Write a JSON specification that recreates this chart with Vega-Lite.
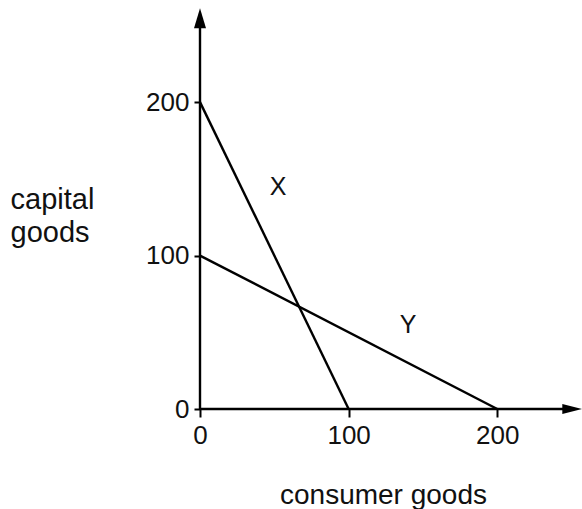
{
  "$schema": "https://vega.github.io/schema/vega-lite/v6.json",
  "width": 382,
  "height": 402,
  "autosize": {"type": "none"},
  "padding": {"left": 200, "top": 7, "right": 0, "bottom": 100},
  "background": "white",
  "config": {"view": {"stroke": null}, "font": "Liberation Sans"},
  "datasets": {
    "segments": [
      {"name": "y-axis", "x": 0, "y": 0, "x2": 0, "y2": 254},
      {"name": "x-axis", "x": 0, "y": 0, "x2": 250, "y2": 0},
      {"name": "X", "x": 0, "y": 200, "x2": 100, "y2": 0},
      {"name": "Y", "x": 0, "y": 100, "x2": 200, "y2": 0}
    ],
    "arrows": [
      {"dir": "up", "x": 0, "y": 254.7},
      {"dir": "right", "x": 250.5, "y": 0}
    ],
    "labels": [
      {"label": "X", "x": 52.5, "y": 144.6},
      {"label": "Y", "x": 140, "y": 54.7}
    ]
  },
  "layer": [
    {
      "data": {"name": "segments"},
      "mark": {"type": "rule", "color": "black", "strokeWidth": 2.4},
      "encoding": {
        "x": {
          "field": "x", "type": "quantitative",
          "scale": {"domain": [0, 257], "nice": false, "zero": false},
          "axis": {
            "values": [0, 100, 200], "domain": false, "grid": false,
            "tickSize": 8, "tickWidth": 2, "tickColor": "black",
            "labelFontSize": 26, "labelColor": "#111", "labelPadding": 5,
            "labelFlush": false,
            "title": "consumer goods", "titleFontSize": 28, "titleFontWeight": "normal",
            "titleColor": "#111", "titleX": 183, "titleY": 86, "titleBaseline": "middle",
            "titleAnchor": "middle", "titleAlign": "center"
          }
        },
        "y": {
          "field": "y", "type": "quantitative",
          "scale": {"domain": [0, 262], "nice": false, "zero": false},
          "axis": {
            "values": [0, 100, 200], "domain": false, "grid": false,
            "tickSize": 6, "tickWidth": 2, "tickColor": "black",
            "labelFontSize": 26, "labelColor": "#111", "labelPadding": 5,
            "labelFlush": false,
            "title": ["capital", "goods"], "titleAngle": 0, "titleFontSize": 29,
            "titleFontWeight": "normal", "titleColor": "#111",
            "titleAlign": "left", "titleBaseline": "top", "titleLineHeight": 33,
            "titleX": -190, "titleY": 178
          }
        },
        "x2": {"field": "x2"},
        "y2": {"field": "y2"}
      }
    },
    {
      "data": {"name": "arrows"},
      "transform": [{"filter": "datum.dir === 'up'"}],
      "mark": {"type": "point", "filled": true, "color": "black", "opacity": 1,
               "shape": "M0,-1L0.6,1L-0.6,1Z", "size": 400},
      "encoding": {
        "x": {"field": "x", "type": "quantitative"},
        "y": {"field": "y", "type": "quantitative"}
      }
    },
    {
      "data": {"name": "arrows"},
      "transform": [{"filter": "datum.dir === 'right'"}],
      "mark": {"type": "point", "filled": true, "color": "black", "opacity": 1,
               "shape": "M1,0L-1,-0.5L-1,0.5Z", "size": 400},
      "encoding": {
        "x": {"field": "x", "type": "quantitative"},
        "y": {"field": "y", "type": "quantitative"}
      }
    },
    {
      "data": {"name": "labels"},
      "mark": {"type": "text", "fontSize": 25, "color": "#111", "align": "center", "baseline": "middle"},
      "encoding": {
        "x": {"field": "x", "type": "quantitative"},
        "y": {"field": "y", "type": "quantitative"},
        "text": {"field": "label"}
      }
    }
  ]
}
